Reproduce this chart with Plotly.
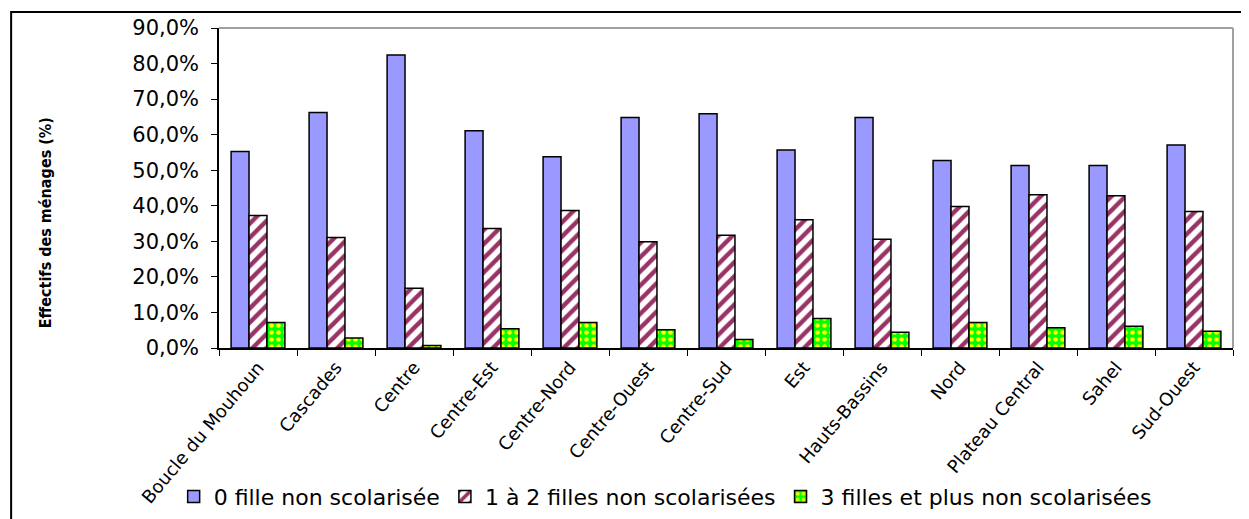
import plotly.graph_objects as go

regions = ["Boucle du Mouhoun", "Cascades", "Centre", "Centre-Est", "Centre-Nord",
           "Centre-Ouest", "Centre-Sud", "Est", "Hauts-Bassins", "Nord",
           "Plateau Central", "Sahel", "Sud-Ouest"]
zero_fille = [55.3, 66.2, 82.4, 61.1, 53.8, 64.8, 65.9, 55.7, 64.8, 52.7, 51.3, 51.3, 57.1]
un_deux_filles = [37.3, 31.1, 16.8, 33.6, 38.7, 29.9, 31.7, 36.1, 30.6, 39.8, 43.1, 42.8, 38.4]
trois_plus = [7.2, 2.8, 0.7, 5.4, 7.2, 5.1, 2.4, 8.3, 4.4, 7.2, 5.7, 6.1, 4.7]

series_names = ["0 fille non scolarisée", "1 à 2 filles non scolarisées",
                "3 filles et plus non scolarisées"]
y_tickvals = [0, 10, 20, 30, 40, 50, 60, 70, 80, 90]
y_ticktext = ["0,0%", "10,0%", "20,0%", "30,0%", "40,0%", "50,0%", "60,0%",
              "70,0%", "80,0%", "90,0%"]

FONT = "DejaVu Sans, Liberation Sans, Arial, sans-serif"
outline = dict(color="black", width=1.5)

fig = go.Figure()
fig.add_trace(go.Bar(
    x=regions, y=zero_fille, name=series_names[0],
    marker=dict(color="#9999FF", line=outline),
))
fig.add_trace(go.Bar(
    x=regions, y=un_deux_filles, name=series_names[1],
    marker=dict(color="white", line=outline,
                pattern=dict(shape="/", fgcolor="#993366", bgcolor="white",
                             size=10, solidity=0.45, fillmode="overlay", fgopacity=1)),
))
fig.add_trace(go.Bar(
    x=regions, y=trois_plus, name=series_names[2],
    marker=dict(color="#00FF00", line=outline,
                pattern=dict(shape=".", fgcolor="#FFFF00", bgcolor="#00FF00",
                             size=7, solidity=0.35, fillmode="overlay", fgopacity=1)),
))

fig.update_layout(
    width=1241, height=511,
    margin=dict(l=211, r=16, t=20, b=171, autoexpand=False),
    paper_bgcolor="white", plot_bgcolor="white",
    barmode="group", bargap=0.31, bargroupgap=0,
    font=dict(family=FONT, color="black"),
    showlegend=True,
    legend=dict(orientation="h", x=0.44, xanchor="center", y=-0.465, yanchor="middle",
                font=dict(size=22, family=FONT), itemwidth=30, tracegroupgap=0,
                bgcolor="rgba(0,0,0,0)"),
    xaxis=dict(
        automargin=False,
        showline=True, linecolor="black", linewidth=1.5,
        ticks="outside", tickson="boundaries", ticklen=6, tickcolor="black", tickwidth=1,
        tickangle=-50, tickfont=dict(size=18, family=FONT),
        showgrid=False, range=[-0.5, 12.5],
    ),
    yaxis=dict(
        automargin=False,
        range=[0, 90], tickvals=y_tickvals, ticktext=y_ticktext,
        showline=True, linecolor="black", linewidth=1.5,
        ticks="outside", ticklen=6, tickcolor="black", tickwidth=1,
        tickfont=dict(size=21, family=FONT), ticklabelstandoff=8,
        showgrid=False, zeroline=False,
    ),
    annotations=[dict(
        text="<b>Effectifs des ménages (%)</b>", textangle=-90,
        xref="paper", yref="paper", x=-0.1716, y=0.393,
        xanchor="center", yanchor="middle", showarrow=False,
        font=dict(size=16, family="Liberation Sans Narrow, DejaVu Sans Condensed, sans-serif"),
    )],
    shapes=[
        dict(type="line", xref="paper", yref="paper", x0=0, x1=1, y0=1, y1=1,
             line=dict(color="#A0A0A0", width=2)),
        dict(type="line", xref="paper", yref="paper", x0=1, x1=1, y0=0, y1=1,
             line=dict(color="#A0A0A0", width=2)),
        dict(type="rect", xref="paper", yref="paper", x0=-0.205, x1=1.05, y0=-0.6, y1=1.05,
             line=dict(color="black", width=2), fillcolor="rgba(0,0,0,0)", layer="above"),
    ],
)

fig.write_html("out.html")
